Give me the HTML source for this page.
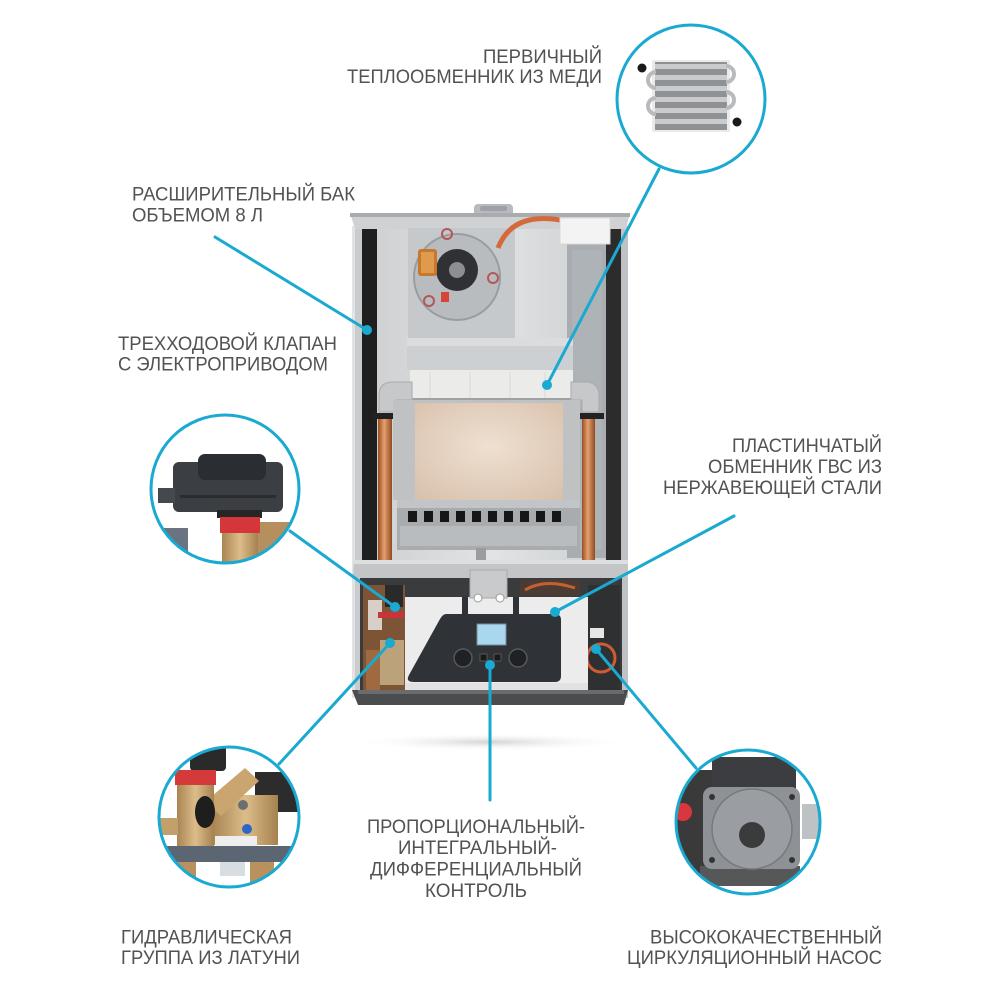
<!DOCTYPE html>
<html>
<head>
<meta charset="utf-8">
<style>
  html,body{margin:0;padding:0;background:#fff;}
  svg{display:block;}
  text{font-family:"Liberation Sans", Arial, sans-serif;font-size:19px;fill:#525252;}
</style>
</head>
<body>
<svg width="1000" height="1000" viewBox="0 0 1000 1000" xmlns="http://www.w3.org/2000/svg">
  <defs>
    <linearGradient id="copper" x1="0" x2="1" y1="0" y2="0">
      <stop offset="0" stop-color="#9a4f22"/>
      <stop offset="0.45" stop-color="#e6a070"/>
      <stop offset="1" stop-color="#8f4a20"/>
    </linearGradient>
    <linearGradient id="back" x1="0" x2="1">
      <stop offset="0" stop-color="#cfd1d3"/>
      <stop offset="0.5" stop-color="#e1e3e4"/>
      <stop offset="1" stop-color="#cdd0d2"/>
    </linearGradient>
    <radialGradient id="chamber" cx="0.5" cy="0.45" r="0.7">
      <stop offset="0" stop-color="#efe0d1"/>
      <stop offset="1" stop-color="#d9c2ad"/>
    </radialGradient>
    <radialGradient id="shadow" cx="0.5" cy="0.5" r="0.5">
      <stop offset="0" stop-color="#c8c8c8" stop-opacity="0.8"/>
      <stop offset="1" stop-color="#ffffff" stop-opacity="0"/>
    </radialGradient>
    <linearGradient id="brass" x1="0" x2="1">
      <stop offset="0" stop-color="#a98552"/>
      <stop offset="0.5" stop-color="#dcbd8a"/>
      <stop offset="1" stop-color="#a68150"/>
    </linearGradient>
    <clipPath id="c1"><circle cx="691" cy="99" r="73"/></clipPath>
    <clipPath id="c2"><circle cx="225" cy="489" r="73"/></clipPath>
    <clipPath id="c3"><circle cx="229" cy="817" r="69"/></clipPath>
    <clipPath id="c4"><circle cx="748" cy="822" r="71"/></clipPath>
  </defs>

  <!-- floor shadow -->
  <ellipse cx="490" cy="742" rx="140" ry="9" fill="url(#shadow)"/>

  <!-- ===== BOILER ===== -->
  <rect x="352" y="226" width="10" height="472" fill="#c9cbcd"/>
  <rect x="352" y="226" width="3" height="472" fill="#e2e3e4"/>
  <rect x="620" y="226" width="8" height="472" fill="#bfc2c4"/>
  <rect x="362" y="228" width="15" height="334" fill="#1f1f1f"/>
  <rect x="606" y="228" width="15" height="334" fill="#2c2c2c"/>
  <rect x="377" y="228" width="229" height="334" fill="url(#back)"/>
  <rect x="567" y="240" width="39" height="318" fill="#a9adb2"/>
  <rect x="572" y="250" width="30" height="300" fill="#b3b7bb" opacity="0.6"/>
  <rect x="474" y="204" width="39" height="13" rx="4" fill="#b8bbbe"/>
  <rect x="480" y="206" width="27" height="5" rx="2" fill="#9ea2a6"/>
  <polygon points="350,213 630,213 626,229 355,229" fill="#cfd1d3"/>
  <rect x="350" y="213" width="280" height="4" fill="#a9acaf"/>
  <!-- fan box -->
  <rect x="408" y="228" width="107" height="110" fill="#c6c9cb"/>
  <circle cx="457" cy="277" r="43" fill="#b9bcbf" stroke="#9a9da0" stroke-width="2"/>
  <circle cx="457" cy="270" r="21" fill="#2f3134"/>
  <circle cx="457" cy="270" r="8" fill="#8c8f92"/>
  <rect x="418" y="249" width="19" height="27" rx="3" fill="#c8782e"/>
  <rect x="421" y="252" width="13" height="21" fill="#e09a4e"/>
  <circle cx="447" cy="234" r="5" fill="none" stroke="#b2575a" stroke-width="2"/>
  <circle cx="493" cy="278" r="5" fill="none" stroke="#b2575a" stroke-width="2"/>
  <circle cx="429" cy="301" r="5" fill="none" stroke="#b2575a" stroke-width="2"/>
  <rect x="441" y="292" width="8" height="10" fill="#d6443a"/>
  <path d="M498 248 Q512 212 560 220" stroke="#d46a3c" stroke-width="5" fill="none"/>
  <rect x="560" y="218" width="50" height="26" fill="#f3f3f3" stroke="#d8d8d8"/>
  <!-- hood -->
  <rect x="407" y="338" width="166" height="32" fill="#cdd0d2"/>
  <rect x="407" y="338" width="166" height="8" fill="#dadcde"/>
  <!-- heat exchanger -->
  <rect x="410" y="370" width="163" height="30" fill="#ebebe9"/>
  <rect x="410" y="398" width="163" height="6" fill="#9fa2a4"/>
  <g stroke="#d9d9d6" stroke-width="1">
    <line x1="430" y1="372" x2="430" y2="398"/><line x1="470" y1="372" x2="470" y2="398"/>
    <line x1="510" y1="372" x2="510" y2="398"/><line x1="545" y1="372" x2="545" y2="398"/>
  </g>
  <path d="M379 412 L379 396 Q379 382 393 382 L412 382 L412 400 L396 400 L396 412 Z" fill="#c6c8ca" stroke="#a8aaac"/>
  <path d="M599 412 L599 396 Q599 382 585 382 L571 382 L571 400 L582 400 L582 412 Z" fill="#c6c8ca" stroke="#a8aaac"/>
  <rect x="373" y="413" width="27" height="6" fill="#222"/>
  <rect x="579" y="413" width="25" height="6" fill="#222"/>
  <!-- combustion chamber -->
  <rect x="393" y="400" width="187" height="100" fill="#bfc1c3"/>
  <rect x="415" y="403" width="148" height="97" fill="url(#chamber)"/>
  <rect x="378" y="419" width="14" height="144" fill="url(#copper)"/>
  <rect x="582" y="419" width="13" height="144" fill="url(#copper)"/>
  <!-- burner -->
  <rect x="397" y="500" width="183" height="50" fill="#a9acaf"/>
  <rect x="397" y="500" width="183" height="8" fill="#c2c5c8"/>
  <rect x="400" y="526" width="177" height="20" fill="#b9bcbf"/>
  <g fill="#161616">
    <rect x="408" y="511" width="9" height="11"/><rect x="424" y="511" width="9" height="11"/>
    <rect x="440" y="511" width="9" height="11"/><rect x="456" y="511" width="9" height="11"/>
    <rect x="472" y="511" width="9" height="11"/><rect x="488" y="511" width="9" height="11"/>
    <rect x="504" y="511" width="9" height="11"/><rect x="520" y="511" width="9" height="11"/>
    <rect x="536" y="511" width="9" height="11"/><rect x="552" y="511" width="9" height="11"/>
  </g>
  <rect x="476" y="548" width="10" height="14" fill="#9a9da0"/>
  <!-- bottom tray -->
  <polygon points="354,560 628,560 628,578 353,578" fill="#c3c5c7"/>
  <rect x="354" y="560" width="274" height="4" fill="#dcdedf"/>
  <!-- lower compartment -->
  <rect x="360" y="578" width="262" height="119" fill="#3a3b3d"/>
  <rect x="363" y="585" width="42" height="110" fill="#7e5436"/>
  <rect x="368" y="600" width="14" height="30" fill="#d8d0c8"/>
  <rect x="378" y="612" width="26" height="6" fill="#c9343a"/>
  <rect x="380" y="640" width="24" height="45" fill="#bba27a"/>
  <rect x="366" y="650" width="14" height="40" fill="#a06a40"/>
  <rect x="385" y="585" width="18" height="22" fill="#2a2a2a"/>
  <rect x="588" y="585" width="32" height="110" fill="#2f3032"/>
  <circle cx="601" cy="658" r="14" fill="none" stroke="#cf5b33" stroke-width="3"/>
  <rect x="590" y="628" width="14" height="10" fill="#e6e6e6"/>
  <rect x="520" y="580" width="60" height="16" fill="#4a3c34"/>
  <path d="M525 590 Q545 578 575 588" stroke="#c8602e" stroke-width="3" fill="none"/>
  <!-- white control box -->
  <rect x="405" y="597" width="183" height="100" fill="#ececec"/>
  <rect x="405" y="683" width="183" height="14" fill="#e2e2e2"/>
  <rect x="470" y="570" width="37" height="28" fill="#c9cacb" stroke="#a9aaab"/>
  <circle cx="478" cy="598" r="4" fill="#fff" stroke="#999"/>
  <circle cx="500" cy="598" r="4" fill="#fff" stroke="#999"/>
  <rect x="462" y="597" width="6" height="18" fill="#2f3236"/>
  <rect x="513" y="597" width="6" height="18" fill="#2f3236"/>
  <path d="M446 614 L555 614 Q561 614 561 620 L561 676 Q561 682 555 682 L414 682 Q405 682 409 675 L440 619 Q443 614 446 614 Z" fill="#2f3236"/>
  <rect x="477" y="624" width="29" height="21" fill="#a9d7ef" stroke="#7a8a95"/>
  <circle cx="463" cy="658" r="9" fill="#1f2124" stroke="#55585c" stroke-width="1.5"/>
  <circle cx="518" cy="658" r="9" fill="#1f2124" stroke="#55585c" stroke-width="1.5"/>
  <rect x="480" y="654" width="7" height="7" fill="#1a1a1a" stroke="#555"/>
  <rect x="494" y="654" width="7" height="7" fill="#1a1a1a" stroke="#555"/>
  <polygon points="352,690 628,690 624,705 358,705" fill="#4b4c4e"/>
  <rect x="358" y="690" width="266" height="4" fill="#6a6b6d"/>

  <!-- ===== CIRCLE 1 (heat exchanger) ===== -->
  <g clip-path="url(#c1)">
    <rect x="600" y="20" width="190" height="170" fill="#fff"/>
    <rect x="652" y="60" width="78" height="72" fill="#e9eaeb"/>
    <rect x="655" y="62" width="72" height="68" fill="#8f9294"/>
    <g fill="#c9cbcd">
      <rect x="655" y="64" width="72" height="5"/><rect x="655" y="75" width="72" height="5"/>
      <rect x="655" y="86" width="72" height="5"/><rect x="655" y="97" width="72" height="5"/>
      <rect x="655" y="108" width="72" height="5"/><rect x="655" y="119" width="72" height="5"/>
    </g>
    <g fill="none" stroke="#b8babc" stroke-width="4">
      <path d="M656 72 A8 8 0 0 0 656 88"/>
      <path d="M656 98 A8 8 0 0 0 656 114"/>
      <path d="M726 66 A8 8 0 0 1 726 82"/>
      <path d="M726 92 A8 8 0 0 1 726 108"/>
    </g>
    <circle cx="642" cy="68" r="4.5" fill="#1a1a1a"/>
    <circle cx="737" cy="122" r="4.5" fill="#1a1a1a"/>
  </g>
  <circle cx="691" cy="99" r="74" fill="none" stroke="#19a9d1" stroke-width="3"/>

  <!-- ===== CIRCLE 2 (3-way valve) ===== -->
  <g clip-path="url(#c2)">
    <rect x="150" y="414" width="150" height="150" fill="#fff"/>
    <rect x="158" y="528" width="30" height="30" fill="#6a7480"/>
    <rect x="258" y="522" width="40" height="40" fill="#b58f5e"/>
    <rect x="173" y="462" width="110" height="50" rx="6" fill="#3b3e43"/>
    <rect x="198" y="454" width="68" height="26" rx="7" fill="#2a2d31"/>
    <rect x="180" y="495" width="96" height="3" fill="#2a2c30"/>
    <rect x="158" y="488" width="17" height="15" fill="#45484c"/>
    <rect x="217" y="510" width="45" height="8" fill="#262626"/>
    <rect x="220" y="517" width="40" height="16" fill="#d4363a"/>
    <rect x="222" y="533" width="36" height="35" fill="url(#brass)"/>
  </g>
  <circle cx="225" cy="489" r="74" fill="none" stroke="#19a9d1" stroke-width="3"/>

  <!-- ===== CIRCLE 3 (hydraulic group) ===== -->
  <g clip-path="url(#c3)">
    <rect x="155" y="745" width="150" height="145" fill="#fff"/>
    <rect x="255" y="772" width="45" height="40" fill="#2c2c2c"/>
    <rect x="213" y="795" width="65" height="50" fill="url(#brass)"/>
    <polygon points="205,802 245,768 259,781 221,816" fill="#caa56f"/>
    <rect x="190" y="744" width="36" height="27" rx="4" fill="#2a2a2a"/>
    <rect x="175" y="770" width="41" height="15" fill="#d53a3a"/>
    <rect x="177" y="785" width="37" height="65" fill="url(#brass)"/>
    <ellipse cx="205" cy="812" rx="10" ry="16" fill="#1e1e1e"/>
    <rect x="160" y="818" width="18" height="17" fill="#c3a06b"/>
    <circle cx="247" cy="829" r="5" fill="#2e66c8"/>
    <circle cx="243" cy="805" r="5" fill="#6c6f72"/>
    <rect x="215" y="836" width="42" height="12" fill="#eeeeee"/>
    <rect x="158" y="846" width="145" height="16" fill="#5c6672"/>
    <rect x="176" y="862" width="20" height="24" fill="#b8915c"/>
    <rect x="250" y="862" width="24" height="20" fill="#b8915c"/>
    <rect x="220" y="862" width="25" height="14" fill="#d8dde2"/>
  </g>
  <circle cx="229" cy="817" r="70" fill="none" stroke="#19a9d1" stroke-width="3"/>

  <!-- ===== CIRCLE 4 (pump) ===== -->
  <g clip-path="url(#c4)">
    <rect x="675" y="750" width="150" height="145" fill="#fff"/>
    <rect x="676" y="770" width="36" height="110" fill="#3a3a3a"/>
    <circle cx="683" cy="812" r="9" fill="#d9363e"/>
    <rect x="802" y="804" width="20" height="35" fill="#bfc2c5"/>
    <rect x="700" y="866" width="100" height="20" fill="#555759"/>
    <rect x="712" y="757" width="84" height="35" rx="3" fill="#3b3d40"/>
    <rect x="703" y="787" width="97" height="82" rx="9" fill="#8e9296"/>
    <circle cx="752" cy="829" r="40" fill="#9a9ea2" stroke="#76797c" stroke-width="1.5"/>
    <circle cx="752" cy="835" r="13" fill="#3a3b3d"/>
    <circle cx="712" cy="797" r="3" fill="#333"/>
    <circle cx="792" cy="797" r="3" fill="#333"/>
    <circle cx="712" cy="860" r="3" fill="#333"/>
    <circle cx="792" cy="860" r="3" fill="#333"/>
  </g>
  <circle cx="748" cy="822" r="72" fill="none" stroke="#19a9d1" stroke-width="3"/>

  <!-- ===== CONNECTORS ===== -->
  <g stroke="#19a9d1" stroke-width="3" fill="none" stroke-linecap="round">
    <line x1="659" y1="169" x2="547" y2="385"/>
    <line x1="215" y1="237" x2="367" y2="330"/>
    <line x1="290" y1="531" x2="395" y2="607"/>
    <line x1="279" y1="764" x2="390" y2="643"/>
    <line x1="490" y1="665" x2="490" y2="800"/>
    <line x1="734" y1="516" x2="555" y2="612"/>
    <line x1="596" y1="649" x2="696" y2="768"/>
  </g>
  <g fill="#19a9d1">
    <circle cx="547" cy="385" r="5"/>
    <circle cx="367" cy="330" r="5"/>
    <circle cx="395" cy="607" r="5"/>
    <circle cx="390" cy="643" r="5"/>
    <circle cx="490" cy="665" r="5"/>
    <circle cx="555" cy="612" r="5"/>
    <circle cx="596" cy="649" r="5"/>
  </g>

  <!-- ===== LABELS ===== -->
  <text x="483" y="63" textLength="119" lengthAdjust="spacingAndGlyphs">ПЕРВИЧНЫЙ</text>
  <text x="347" y="83" textLength="255" lengthAdjust="spacingAndGlyphs">ТЕПЛООБМЕННИК ИЗ МЕДИ</text>

  <text x="132" y="200.5" textLength="223" lengthAdjust="spacingAndGlyphs">РАСШИРИТЕЛЬНЫЙ БАК</text>
  <text x="132" y="221.5" textLength="131" lengthAdjust="spacingAndGlyphs">ОБЪЕМОМ 8 Л</text>

  <text x="118" y="350" textLength="219" lengthAdjust="spacingAndGlyphs">ТРЕХХОДОВОЙ КЛАПАН</text>
  <text x="118" y="370.5" textLength="210" lengthAdjust="spacingAndGlyphs">С ЭЛЕКТРОПРИВОДОМ</text>

  <text x="732" y="452" textLength="150" lengthAdjust="spacingAndGlyphs">ПЛАСТИНЧАТЫЙ</text>
  <text x="708" y="473" textLength="174" lengthAdjust="spacingAndGlyphs">ОБМЕННИК ГВС ИЗ</text>
  <text x="663" y="494" textLength="219" lengthAdjust="spacingAndGlyphs">НЕРЖАВЕЮЩЕЙ СТАЛИ</text>

  <text x="367" y="833" textLength="218" lengthAdjust="spacingAndGlyphs">ПРОПОРЦИОНАЛЬНЫЙ-</text>
  <text x="398" y="854" textLength="159" lengthAdjust="spacingAndGlyphs">ИНТЕГРАЛЬНЫЙ-</text>
  <text x="370" y="875.5" textLength="212" lengthAdjust="spacingAndGlyphs">ДИФФЕРЕНЦИАЛЬНЫЙ</text>
  <text x="425" y="897" textLength="102" lengthAdjust="spacingAndGlyphs">КОНТРОЛЬ</text>

  <text x="121" y="943.5" textLength="171" lengthAdjust="spacingAndGlyphs">ГИДРАВЛИЧЕСКАЯ</text>
  <text x="121" y="964" textLength="179" lengthAdjust="spacingAndGlyphs">ГРУППА ИЗ ЛАТУНИ</text>

  <text x="650" y="943.5" textLength="232" lengthAdjust="spacingAndGlyphs">ВЫСОКОКАЧЕСТВЕННЫЙ</text>
  <text x="627" y="964" textLength="255" lengthAdjust="spacingAndGlyphs">ЦИРКУЛЯЦИОННЫЙ НАСОС</text>
</svg>
</body>
</html>
